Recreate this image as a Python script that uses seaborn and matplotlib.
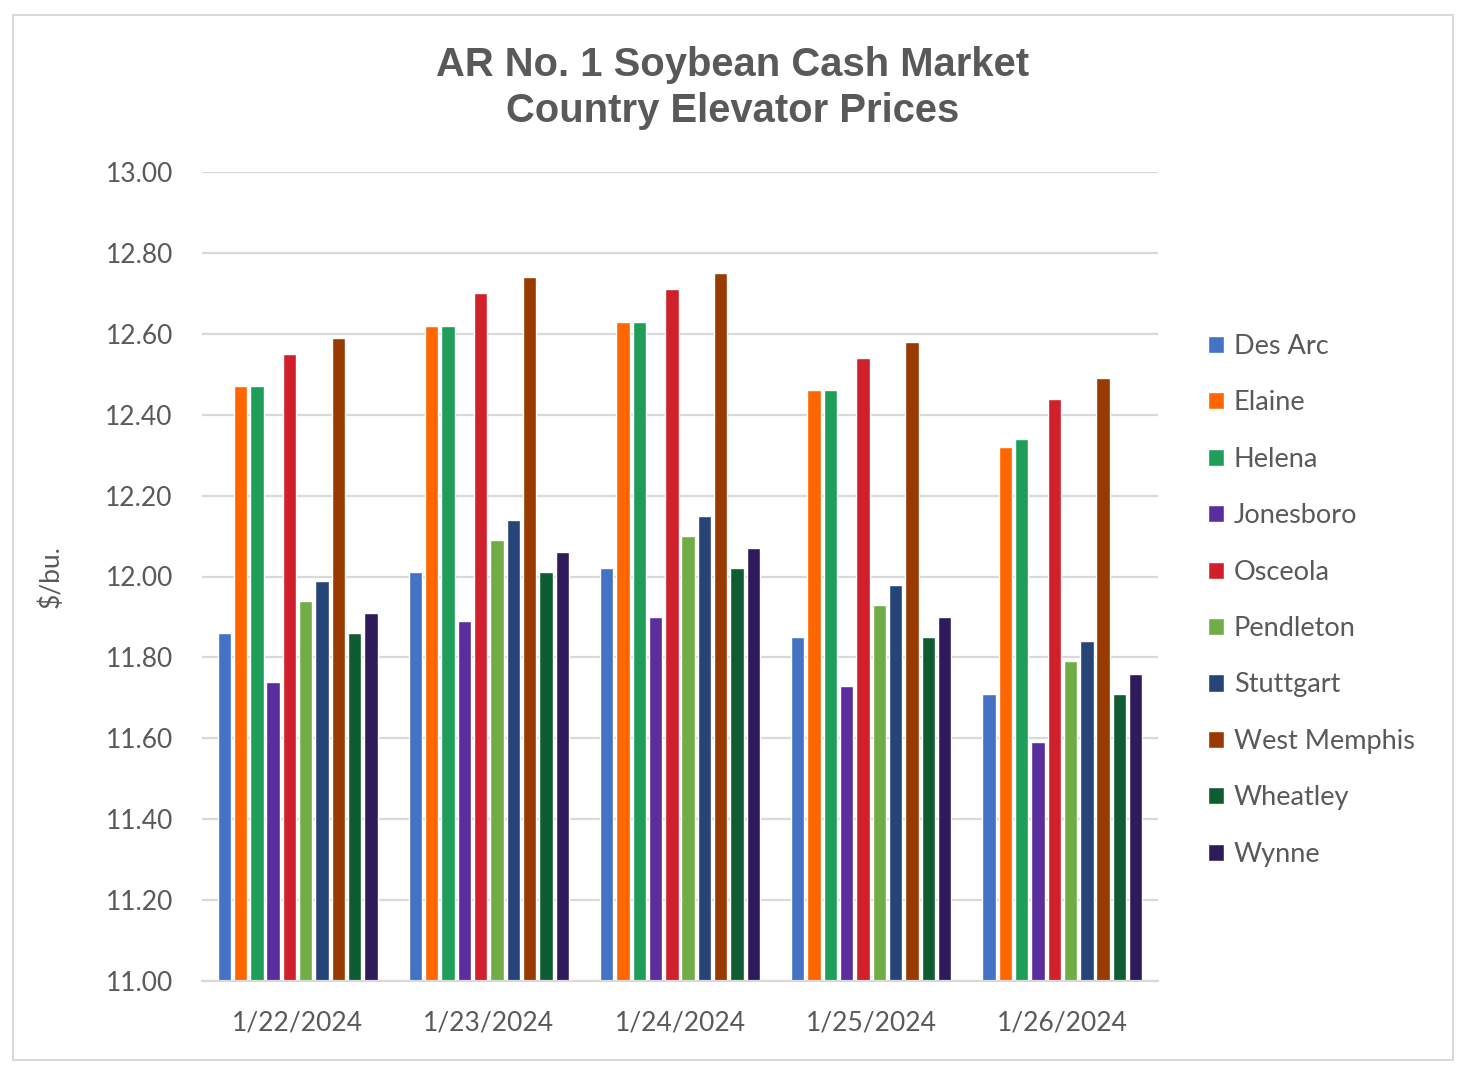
import matplotlib
matplotlib.use("Agg")
import matplotlib.pyplot as plt
from matplotlib.patches import Rectangle
import seaborn as sns
import pandas as pd

dates = ["1/22/2024", "1/23/2024", "1/24/2024", "1/25/2024", "1/26/2024"]
sites = ["Des Arc", "Elaine", "Helena", "Jonesboro", "Osceola", "Pendleton",
         "Stuttgart", "West Memphis", "Wheatley", "Wynne"]

des_arc      = [11.86, 12.01, 12.02, 11.85, 11.71]
elaine       = [12.47, 12.62, 12.63, 12.46, 12.32]
helena       = [12.47, 12.62, 12.63, 12.46, 12.34]
jonesboro    = [11.74, 11.89, 11.90, 11.73, 11.59]
osceola      = [12.55, 12.70, 12.71, 12.54, 12.44]
pendleton    = [11.94, 12.09, 12.10, 11.93, 11.79]
stuttgart    = [11.99, 12.14, 12.15, 11.98, 11.84]
west_memphis = [12.59, 12.74, 12.75, 12.58, 12.49]
wheatley     = [11.86, 12.01, 12.02, 11.85, 11.71]
wynne        = [11.91, 12.06, 12.07, 11.90, 11.76]

series = [des_arc, elaine, helena, jonesboro, osceola, pendleton,
          stuttgart, west_memphis, wheatley, wynne]
colors = ["#4472C4", "#FF6600", "#1E9E58", "#5B2E9E", "#D0202C", "#70AD47",
          "#264478", "#993A00", "#0F5C33", "#2F1B5C"]

rows = []
for s, vals in zip(sites, series):
    for d, v in zip(dates, vals):
        rows.append({"Date": d, "Site": s, "Price": v})
df = pd.DataFrame(rows)

sns.set_theme(style="white")
plt.rcParams["font.family"] = ["Lato", "DejaVu Sans"]

W, H = 1467, 1068
fig = plt.figure(figsize=(W / 100, H / 100), dpi=100)
ax = fig.add_axes([202 / W, 1 - 981 / H, (1158 - 202) / W, (981 - 172) / H])

sns.barplot(data=df, x="Date", y="Price", hue="Site", order=dates,
            hue_order=sites, palette=colors, width=0.853, gap=0.18,
            saturation=1, ax=ax, legend=True, errorbar=None)

ax.set_ylim(11.0, 13.0)
ax.set_yticks([11.0 + 0.2 * i for i in range(11)])
ax.set_yticklabels([f"{11.0 + 0.2 * i:.2f}" for i in range(11)])
ax.yaxis.grid(True, color="#D9D9D9", linewidth=1.6)
ax.set_axisbelow(True)
for side in ["top", "right", "left"]:
    ax.spines[side].set_visible(False)
ax.spines["bottom"].set_color("#D9D9D9")
ax.spines["bottom"].set_linewidth(1.6)
ax.tick_params(axis="both", length=0, labelsize=19, colors="#595959")
ax.tick_params(axis="y", pad=21)
ax.tick_params(axis="x", pad=21)
ax.set_xlabel("")
ax.set_ylabel("$/bu.", fontsize=19, color="#595959", labelpad=30)

handles, labels = ax.get_legend_handles_labels()
ax.legend(handles, labels, loc="upper left",
          bbox_to_anchor=(1208 / W, 1 - 334 / H), bbox_transform=fig.transFigure,
          frameon=False, fontsize=19.5, labelcolor="#595959",
          handlelength=0.6, handleheight=0.6, handletextpad=0.35,
          labelspacing=1.16, borderaxespad=0, borderpad=0)

fig.text(733 / W, 1 - 88 / H,
         "AR No. 1 Soybean Cash Market\nCountry Elevator Prices",
         ha="center", va="center", fontsize=28.8, fontweight="bold",
         color="#595959", family=["Liberation Sans", "DejaVu Sans"],
         linespacing=1.28)

fig.patches.append(Rectangle((13 / W, 1 - 1060 / H), (1453 - 13) / W,
                             (1060 - 15) / H, transform=fig.transFigure,
                             fill=False, edgecolor="#D9D9D9", linewidth=1.5))

fig.savefig("out.png", dpi=100, facecolor="white")
